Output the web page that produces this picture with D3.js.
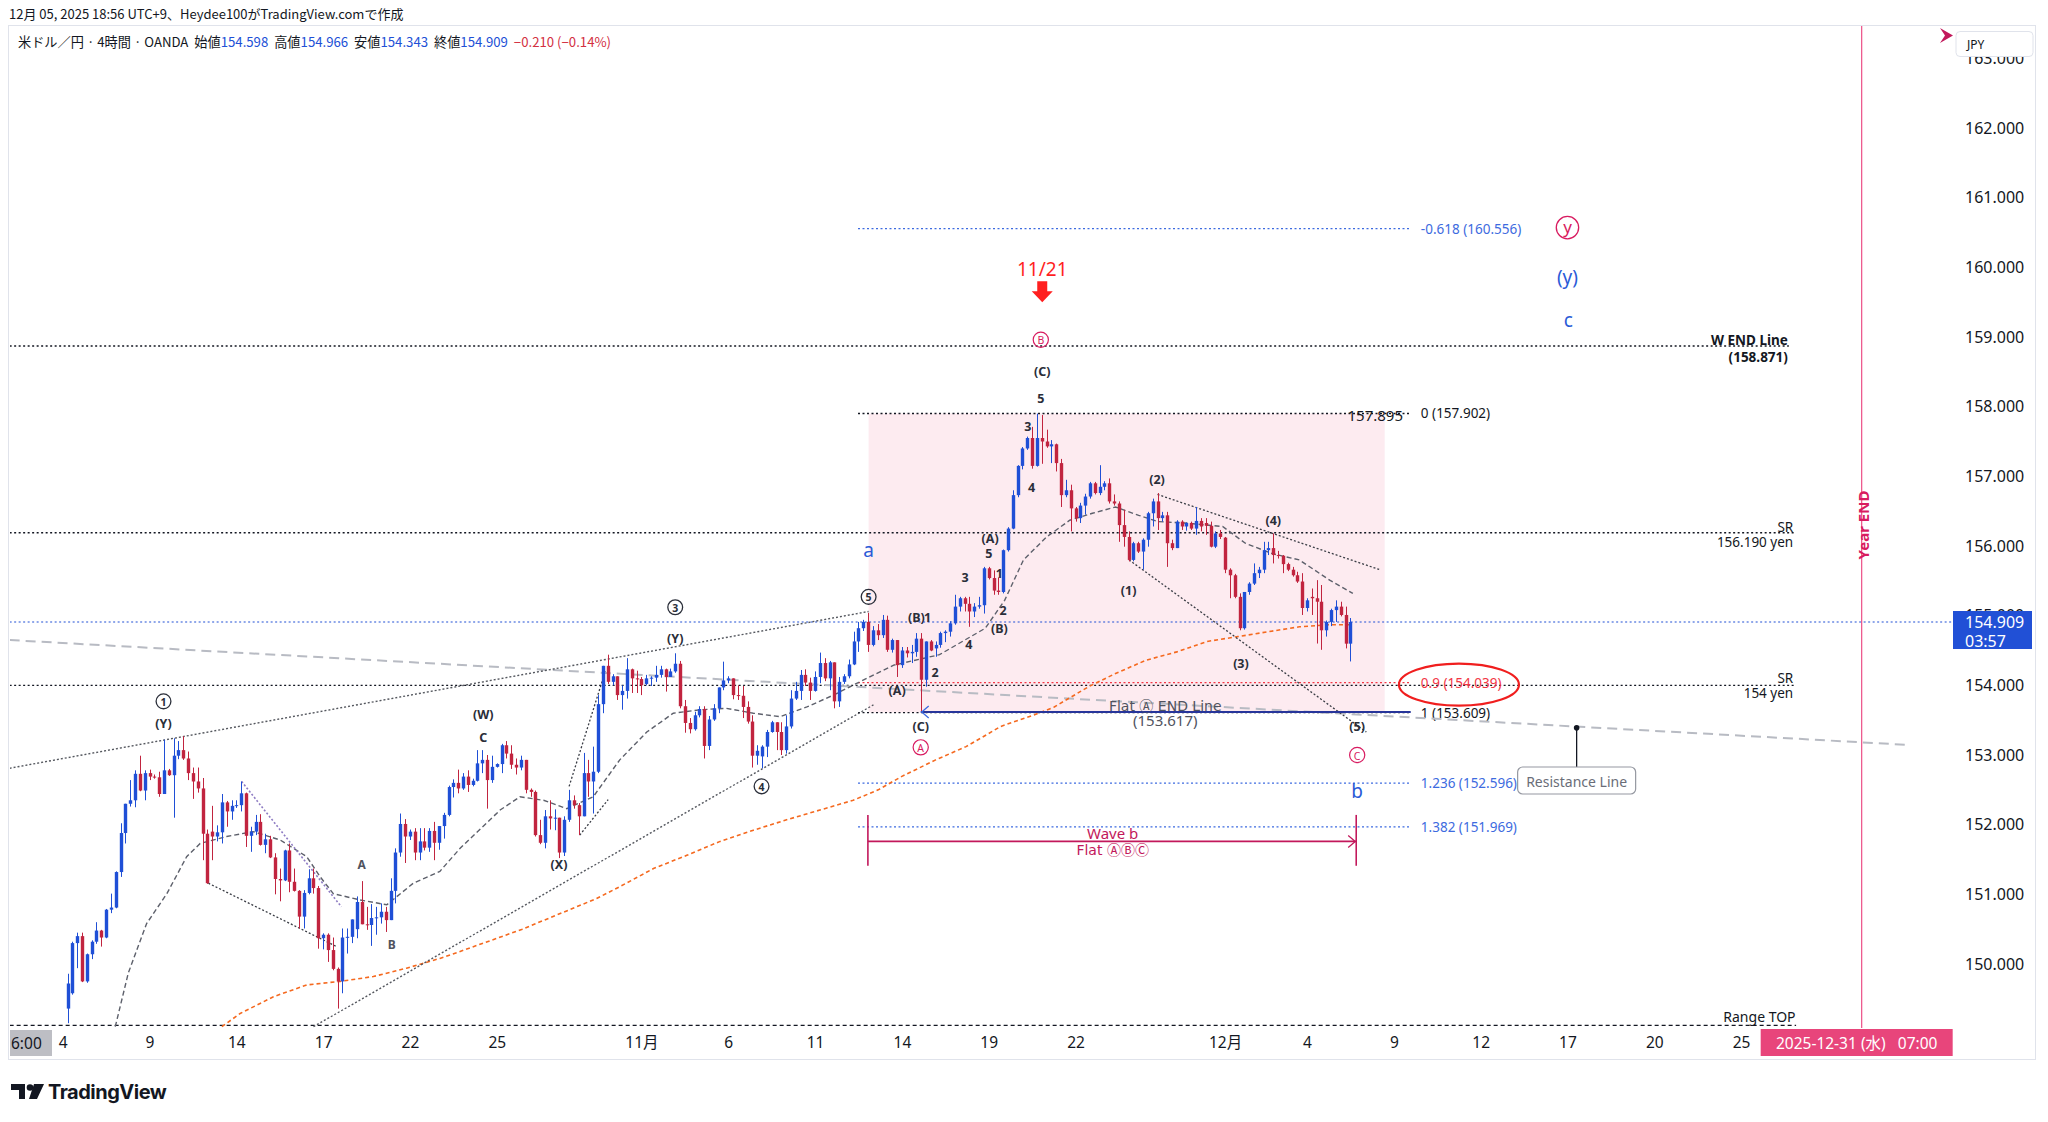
<!DOCTYPE html>
<html><head><meta charset="utf-8">
<script src="https://cdn.jsdelivr.net/npm/d3@7"></script>
<style>
html,body{margin:0;padding:0;background:#fff;}
text{font-family:"Noto Sans","Noto Sans CJK JP",sans-serif;}
</style></head>
<body><svg id="chart" width="2048" height="1122"></svg>
<script>
// ---------------- DATA ----------------
const firstBar = 1; // bar index of first candle (Mon Oct 6 07:00 JST); index 0 = Sat Oct 4 03:00
const opens = [
149.36,149.58,150.30,150.40,149.75,150.14,150.32,150.48,150.38,150.78,
150.81,151.32,151.88,152.30,152.35,152.73,152.49,152.74,152.69,152.68,
152.44,152.78,152.71,152.99,153.07,152.95,152.74,152.62,152.52,151.87,
151.90,151.83,151.89,152.32,152.19,152.27,152.28,152.45,151.84,151.90,
152.04,151.71,151.79,151.53,151.22,151.20,151.63,151.18,151.05,150.68,
151.02,151.23,151.09,150.37,150.42,150.20,149.93,149.75,150.38,150.39,
150.50,150.89,150.57,150.56,150.66,150.67,150.75,150.63,151.05,151.60,
152.01,151.83,151.90,151.60,151.76,151.67,151.91,151.74,151.98,152.14,
152.54,152.60,152.52,152.69,152.57,152.63,152.88,152.93,152.64,152.83,
152.87,153.14,153.02,152.86,152.82,152.93,152.50,152.47,151.85,151.74,
152.12,152.09,152.10,151.60,152.07,152.35,152.28,152.12,152.74,152.62,
152.76,153.73,154.28,154.05,154.13,153.86,153.92,154.23,154.10,154.09,
154.02,154.10,154.11,154.15,154.23,154.12,154.20,154.31,153.70,153.46,
153.37,153.57,153.66,153.13,153.51,153.67,153.97,154.07,154.10,153.86,
153.85,153.69,153.48,152.99,152.98,153.12,153.33,153.47,153.33,153.07,
153.41,153.81,153.92,154.15,154.04,153.92,154.12,154.32,154.10,154.33,
153.77,154.05,154.13,154.30,154.63,154.82,154.91,154.58,154.79,154.72,
154.94,154.51,154.65,154.29,154.50,154.46,154.48,154.67,154.08,154.63,
154.53,154.58,154.75,154.77,154.89,155.13,155.25,155.17,155.06,155.13,
155.15,155.68,155.54,155.36,155.34,155.94,156.25,156.73,157.15,157.40,
157.55,157.15,157.55,157.50,157.43,157.46,157.19,156.73,156.80,156.54,
156.40,156.58,156.71,156.90,156.76,156.85,156.90,156.64,156.61,156.30,
156.13,155.80,156.04,155.92,156.09,156.47,156.64,156.40,156.44,156.04,
155.97,156.35,156.28,156.33,156.25,156.36,156.33,156.29,155.99,156.18,
156.12,155.66,155.58,155.27,154.82,155.34,155.46,155.61,155.66,155.94,
155.97,155.87,155.86,155.74,155.66,155.58,155.49,155.11,155.27,155.25,
155.20,154.79,154.91,155.08,155.13,155.01,154.598];
const highs = [
149.86,150.32,150.45,150.45,150.15,150.34,150.60,150.49,150.79,151.01,
151.33,152.02,152.30,152.64,152.78,152.99,152.78,152.79,152.72,152.76,
153.22,152.80,153.24,153.20,153.27,153.05,152.82,152.82,152.67,151.93,
152.27,151.99,152.44,152.34,152.35,152.35,152.62,152.46,151.97,152.14,
152.15,151.87,151.84,151.59,151.37,151.64,151.73,151.37,151.06,151.06,
151.36,151.37,151.12,150.44,150.44,150.38,149.95,150.51,150.51,150.64,
150.97,151.19,150.82,150.86,150.82,150.87,150.82,151.23,151.66,152.16,
152.08,151.93,151.95,151.95,151.95,151.95,152.04,151.98,152.17,152.56,
152.65,152.79,152.74,152.78,152.66,153.07,153.07,153.00,152.99,152.88,
153.16,153.20,153.14,152.95,152.99,152.93,152.52,152.49,152.07,152.21,
152.35,152.22,152.10,152.12,152.50,152.42,152.31,153.03,152.93,153.12,
153.86,154.28,154.44,154.16,154.13,154.00,154.39,154.24,154.21,154.12,
154.15,154.13,154.28,154.28,154.24,154.24,154.46,154.35,153.79,153.53,
153.62,153.70,153.70,153.56,153.73,153.97,154.34,154.13,154.10,154.00,
153.99,153.77,153.57,153.14,153.14,153.36,153.49,153.47,153.47,153.57,
153.93,154.05,154.22,154.23,154.11,154.20,154.47,154.39,154.35,154.33,
154.12,154.16,154.37,154.77,154.91,154.94,155.04,154.85,154.88,155.01,
155.00,154.67,154.65,154.55,154.55,154.58,154.75,154.75,154.63,154.65,
154.63,154.77,154.79,154.92,155.30,155.27,155.27,155.27,155.18,155.27,
155.70,155.70,155.65,155.55,155.95,156.27,156.80,157.16,157.42,157.57,
157.71,157.90,157.88,157.67,157.52,157.47,157.25,156.95,156.88,156.56,
156.62,156.75,156.92,156.92,157.16,156.93,156.97,156.74,156.64,156.52,
156.21,156.06,156.06,156.11,156.49,156.68,156.76,156.49,156.49,156.09,
156.37,156.37,156.34,156.35,156.56,156.40,156.40,156.35,156.21,156.23,
156.13,155.68,155.60,155.32,155.34,155.48,155.75,155.70,156.06,156.06,
156.18,155.93,155.87,155.76,155.70,155.63,155.61,155.25,155.39,155.51,
155.44,154.93,155.10,155.22,155.20,155.13,154.966];
const lows = [
149.15,149.56,149.94,149.74,149.73,150.07,150.29,150.25,150.37,150.73,
150.80,151.25,151.73,152.26,152.25,152.48,152.35,152.64,152.66,152.40,
152.44,152.70,152.10,152.94,152.93,152.64,152.37,152.46,151.49,151.15,
151.49,151.76,151.73,151.97,152.07,152.24,152.19,151.68,151.61,151.85,
151.70,151.59,151.52,151.00,150.90,151.19,151.03,151.04,150.51,150.51,
151.00,151.01,150.22,150.21,150.03,149.91,149.36,149.58,150.15,150.30,
150.37,150.57,150.49,150.26,150.42,150.58,150.46,150.63,150.87,151.54,
151.45,151.78,151.49,151.49,151.63,151.61,151.49,151.64,151.80,152.12,
152.39,152.45,152.50,152.47,152.55,152.62,152.74,152.23,152.60,152.82,
152.74,152.95,152.80,152.72,152.78,152.45,152.40,151.83,151.72,151.66,
151.93,151.92,151.52,151.55,152.04,152.23,151.85,152.12,152.40,152.16,
152.74,153.60,154.02,154.00,153.79,153.65,153.81,153.89,153.89,153.86,
154.00,153.99,154.05,154.11,153.91,154.12,154.18,153.67,153.32,153.31,
153.35,153.54,152.95,153.07,153.49,153.60,153.93,154.03,153.80,153.79,
153.53,153.45,152.82,152.86,152.81,152.97,153.32,153.07,153.00,153.02,
153.38,153.79,153.79,153.99,153.79,153.91,154.03,154.06,153.93,153.67,
153.69,154.02,154.10,154.29,154.48,154.78,154.48,154.56,154.65,154.68,
154.48,154.47,154.12,154.25,154.40,154.32,154.41,153.61,153.98,154.49,
154.41,154.54,154.62,154.70,154.87,155.06,155.06,154.84,154.98,155.10,
155.03,155.52,155.30,155.30,155.32,155.92,156.24,156.70,157.10,157.38,
157.11,157.14,157.18,157.41,157.19,157.07,156.56,156.70,156.21,156.35,
156.33,156.45,156.68,156.74,156.73,156.80,156.61,156.58,156.06,155.99,
155.78,155.78,155.90,155.66,155.99,156.28,156.23,156.35,155.70,155.94,
155.97,156.23,156.22,156.23,156.16,156.21,156.16,155.98,155.97,156.10,
155.61,155.25,155.25,154.79,154.80,155.30,155.44,155.54,155.61,155.87,
155.75,155.82,155.61,155.64,155.56,155.47,155.01,155.06,155.01,154.60,
154.51,154.70,154.85,154.91,154.99,154.53,154.343];
const closes = [
149.72,150.30,150.40,149.75,150.14,150.32,150.48,150.38,150.78,150.81,
151.32,151.88,152.30,152.35,152.73,152.49,152.74,152.69,152.68,152.44,
152.78,152.71,152.99,153.07,152.95,152.74,152.62,152.52,151.87,151.16,
151.83,151.89,152.32,152.19,152.27,152.28,152.45,151.84,151.90,152.04,
151.71,151.79,151.53,151.22,151.20,151.63,151.18,151.05,150.68,151.02,
151.23,151.09,150.37,150.42,150.20,149.93,149.75,150.38,150.39,150.64,
150.89,150.57,150.56,150.66,150.67,150.75,150.63,151.05,151.60,152.01,
151.83,151.90,151.60,151.76,151.67,151.91,151.74,151.98,152.14,152.54,
152.60,152.52,152.69,152.57,152.63,152.88,152.93,152.64,152.83,152.87,
153.14,153.02,152.86,152.82,152.93,152.50,152.47,151.85,151.74,152.12,
152.09,152.10,151.60,152.07,152.35,152.28,152.12,152.74,152.62,152.76,
153.73,154.28,154.05,154.13,153.86,153.92,154.23,154.10,154.09,154.00,
154.10,154.11,154.15,154.23,154.12,154.20,154.31,153.70,153.46,153.37,
153.57,153.66,153.13,153.51,153.67,153.97,154.07,154.10,153.86,153.85,
153.69,153.48,152.99,153.06,153.12,153.33,153.47,153.33,153.07,153.41,
153.81,153.92,154.15,154.04,153.92,154.12,154.32,154.10,154.33,153.77,
154.05,154.13,154.30,154.63,154.82,154.91,154.58,154.79,154.72,154.94,
154.51,154.65,154.29,154.50,154.46,154.48,154.67,154.08,154.63,154.50,
154.58,154.75,154.77,154.89,155.13,155.25,155.17,155.06,155.13,155.15,
155.68,155.54,155.36,155.34,155.94,156.25,156.73,157.15,157.40,157.55,
157.15,157.55,157.50,157.43,157.46,157.19,156.73,156.80,156.54,156.40,
156.58,156.71,156.90,156.76,156.85,156.90,156.64,156.61,156.30,156.13,
155.80,156.04,155.92,156.09,156.47,156.64,156.40,156.44,156.04,155.97,
156.35,156.28,156.33,156.25,156.36,156.28,156.29,155.99,156.18,156.13,
155.66,155.58,155.27,154.82,155.34,155.46,155.61,155.66,155.94,155.97,
155.87,155.86,155.74,155.66,155.58,155.49,155.11,155.22,155.25,155.20,
154.79,154.91,155.08,155.13,155.01,154.598,154.909];

// moving averages (bar index, value)
const fastMaBars = [10.9,13.6,17.4,21.6,25.7,28.5,34.0,39.5,45.1,50.6,53.4,56.1,61.6,67.2,72.7,78.2,82.4,90.7,94.8,99.7,104.5,110.0,115.5,121.1,126.6,132.2,137.6,143.2,148.7,154.3,159.8,166.7,172.3,181.8,191.3,195.3,199.2,204.0,208.8,213.5,218.3,223.1,227.1,232.6,240.5,245.2,250.8,256.4,262.7,267.5];
const fastMaValues = [149.10,149.87,150.58,151.01,151.54,151.73,151.83,151.90,151.78,151.54,151.25,151.01,150.92,150.85,151.16,151.33,151.66,152.21,152.40,152.35,152.23,152.40,152.93,153.33,153.60,153.65,153.67,153.60,153.55,153.69,153.86,154.10,154.29,154.44,154.82,155.22,155.80,156.13,156.37,156.47,156.56,156.44,156.35,156.33,156.28,156.04,155.89,155.80,155.51,155.32];
const slowMaBars = [33.0,36.8,43.7,50.6,57.5,64.4,71.3,78.2,82.4,95.3,110.7,115.5,122.5,129.4,136.3,143.2,150.1,157.0,163.9,169.1,173.9,181.0,187.3,194.5,202.4,205.6,212.7,218.3,224.6,231.0,237.3,243.7,250.0,256.4,262.7,267.5];
const slowMaValues = [149.10,149.29,149.53,149.70,149.75,149.82,149.94,150.08,150.18,150.50,150.94,151.11,151.37,151.56,151.76,151.92,152.07,152.21,152.35,152.50,152.69,152.93,153.12,153.41,153.60,153.69,153.98,154.17,154.36,154.48,154.63,154.70,154.77,154.84,154.87,154.87];

// axes
const priceTicks = [150,151,152,153,154,155,156,157,158,159,160,161,162,163];
const timeTickBars = [0,18,36,54,72,90,120,138,156,174,192,210,241,258,276,294,312,330,348];
const timeTickLabels = ["4","9","14","17","22","25","11月","6","11","14","19","22","12月","4","9","12","17","20","25"];

// fibonacci
const fibLevels = [-0.618, 0, 0.9, 1, 1.236, 1.382];
const fibPrices = [160.556, 157.902, 154.039, 153.609, 152.596, 151.969];
const fibBars = [164.9, 279.5];

// horizontal levels
const wEndPrice = 158.871;
const srPrices = [156.190, 154.0];
const srLabels = ["156.190 yen", "154 yen"];
const rangeTopPrice = 149.12;
const lastPrice = 154.909;
const flatEndPrice = 153.617;
const boxPrices = [157.902, 153.609];
const boxBars = [167.1, 274.1];
const waveBBars = [166.95, 268.2];
const yearEndBar = 373;

// trend lines [bar1, price1, bar2, price2]
const channelLines = [
  [-11, 152.81, 167.1, 155.06],
  [52.0, 149.10, 168.1, 153.72]
];
const wedgeLines = [
  [30.2, 151.16, 56.8, 150.25],
  [105.0, 152.55, 112.5, 154.20],
  [107.2, 151.85, 113.1, 152.36],
  [227.0, 156.74, 273.1, 155.66],
  [221.1, 155.80, 270.3, 153.33]
];
const purpleLines = [[37.1, 152.62, 57.8, 150.82]];
const resistanceLine = [-11, 154.65, 382.4, 153.146];
const resistanceAnchor = [313.9, 153.39];

// wave labels [bar, price, text]
const waveLabels = [
  [20.9,153.45,"(Y)"],[127.0,154.67,"(Y)"],[87.2,153.58,"(W)"],[87.2,153.25,"C"],[102.9,151.43,"(X)"],
  [177.0,154.97,"(B)"],[179.3,154.97,"1"],[180.9,154.18,"2"],[173.0,153.92,"(A)"],[177.9,153.41,"(C)"],
  [187.9,154.59,"4"],[187.1,155.55,"3"],[192.0,155.89,"5"],[192.3,156.11,"(A)"],[194.2,155.61,"1"],
  [195.0,155.08,"2"],[194.2,154.82,"(B)"],[200.9,156.84,"4"],[200.1,157.72,"3"],[202.8,158.12,"5"],
  [203.1,158.51,"(C)"],[221.0,155.36,"(1)"],[226.9,156.96,"(2)"],[244.3,154.31,"(3)"],[251.0,156.36,"(4)"],
  [268.4,153.41,"(5)"]
];
const minorLabels = [[62.0,151.43,"A"],[68.2,150.28,"B"]];
const circledNumbers = [[20.9,153.77,"1"],[127.0,155.12,"3"],[167.1,155.27,"5"],[144.9,152.55,"4"]];
const circledLetters = [[177.9,153.11,"A"],[202.8,158.96,"B"],[268.4,153.00,"C"]];
const bigCircled = [[312.0,160.57,"y"]];
const blueLabels = [[167.1,155.94,"a"],[268.4,152.48,"b"],[312.0,159.86,"(y)"],[312.2,159.24,"c"]];
const signalBar = 203.1, signalPrice = 159.97, signalText = "11/21";

// ---------------- DRAW ----------------
const svg = d3.select("#chart");
const PL = 10, PR = 1953, PT = 26, PB = 1028;
const X = d3.scaleLinear().domain([0, 348]).range([62.7, 1741.1]);
const Y = d3.scaleLinear().domain([150, 162]).range([964, 128]);

svg.append("rect").attr("width",2048).attr("height",1122).attr("fill","#fff");
// header
svg.append("text").attr("x",9).attr("y",19).attr("font-size",13).attr("fill","#131722")
  .style("font-family","'Noto Sans CJK JP',sans-serif")
  .text("12月 05, 2025 18:56 UTC+9、Heydee100がTradingView.comで作成");
// frame
svg.append("rect").attr("x",8.5).attr("y",25.5).attr("width",2027).attr("height",1034)
  .attr("fill","none").attr("stroke","#e0e3eb");

const defs = svg.append("defs");
defs.append("clipPath").attr("id","clip").append("rect")
  .attr("x",PL).attr("y",PT).attr("width",PR-PL).attr("height",PB-PT);
defs.append("clipPath").attr("id","clipAxis").append("rect")
  .attr("x",PL).attr("y",PB).attr("width",PR-PL).attr("height",32);

const plot = svg.append("g").attr("clip-path","url(#clip)");

// pink box
plot.append("rect").attr("x",X(boxBars[0])).attr("width",X(boxBars[1])-X(boxBars[0]))
  .attr("y",Y(boxPrices[0])).attr("height",Y(boxPrices[1])-Y(boxPrices[0]))
  .attr("fill","#fdebf0");

function seg(g, a, stroke, dash, w){
  return g.append("line").attr("x1",X(a[0])).attr("y1",Y(a[1])).attr("x2",X(a[2])).attr("y2",Y(a[3]))
    .attr("stroke",stroke).attr("stroke-width",w||1.2).attr("stroke-dasharray",dash||null);
}
function txt(g, x, y, s, size, fill, anchor, weight){
  return g.append("text").attr("x",x).attr("y",y).attr("font-size",size).attr("fill",fill)
    .attr("text-anchor",anchor||"middle").attr("dominant-baseline","central")
    .attr("font-weight",weight||"normal").text(s);
}

// horizontal dotted levels
seg(plot,[-11,wEndPrice,357.9,wEndPrice],"#131722","2,2.5",1.3);
srPrices.forEach(p=>seg(plot,[-11,p,359.4,p],"#131722","2,2.5",1.3));
seg(plot,[-11,rangeTopPrice,359.4,rangeTopPrice],"#131722","4,3",1.3);
seg(plot,[-11,lastPrice,400,lastPrice],"#2150d6","2,2.5",1.2);

// fib
const fibColors = ["#3d6be0","#131722","#f23645","#131722","#3d6be0","#3d6be0"];
fibPrices.forEach((p,i)=>{
  seg(plot,[fibBars[0],p,fibBars[1],p],fibColors[i],"2,2.5",1.3);
  txt(plot, X(281.6), Y(p), `${fibLevels[i]} (${p.toFixed(3)})`, 13.5, fibColors[i], "start");
});
txt(plot, X(277.9), Y(157.88), "157.895", 15, "#131722", "end");

// resistance dashed line
seg(plot,resistanceLine,"#b8bbc3","10,6",2);

// moving averages
const line = d3.line().x(d=>X(d[0])).y(d=>Y(d[1]));
plot.append("path").datum(slowMaBars.map((b,i)=>[b,slowMaValues[i]])).attr("d",line)
  .attr("fill","none").attr("stroke","#f5691f").attr("stroke-width",1.6).attr("stroke-dasharray","4,3");
plot.append("path").datum(fastMaBars.map((b,i)=>[b,fastMaValues[i]])).attr("d",line)
  .attr("fill","none").attr("stroke","#5d606b").attr("stroke-width",1.4).attr("stroke-dasharray","5,3");

// trend lines
channelLines.forEach(a=>seg(plot,a,"#55585f","2,2",1.4));
wedgeLines.forEach(a=>seg(plot,a,"#3a3d45","2,2",1.3));
purpleLines.forEach(a=>seg(plot,a,"#8e7cc3","2,2",1.6));

// candles
const bars = opens.map((o,i)=>({k:firstBar+i,o,h:highs[i],l:lows[i],c:closes[i]}));
const upC = "#1f4fd6", dnC = "#c1243f";
const cg = plot.append("g");
cg.selectAll("line").data(bars).join("line")
  .attr("x1",d=>Math.round(X(d.k))+0.5).attr("x2",d=>Math.round(X(d.k))+0.5)
  .attr("y1",d=>Y(d.h)).attr("y2",d=>Y(d.l))
  .attr("stroke",d=>d.c>=d.o?upC:dnC).attr("stroke-width",1);
cg.selectAll("rect").data(bars).join("rect")
  .attr("x",d=>Math.round(X(d.k))-1.2).attr("width",3.4)
  .attr("y",d=>Y(Math.max(d.o,d.c))).attr("height",d=>Math.max(1,Math.abs(Y(d.o)-Y(d.c))))
  .attr("fill",d=>d.c>=d.o?upC:dnC);

// flat A end line
seg(plot,[177.9,flatEndPrice,279.5,flatEndPrice],"#27359a",null,2);
plot.append("path").attr("d",`M${X(177.9)+8},${Y(flatEndPrice)-6} L${X(177.9)+1},${Y(flatEndPrice)} L${X(177.9)+8},${Y(flatEndPrice)+6}`)
  .attr("fill","none").attr("stroke","#3d6be0").attr("stroke-width",1.3);
txt(plot, X(228.6), Y(153.70), "Flat Ⓐ END Line", 15, "#50535e").style("font-family","'DejaVu Sans','Noto Sans CJK JP',sans-serif").attr("font-size",14);
txt(plot, X(228.6), Y(153.50), "(153.617)", 15, "#50535e");

// red ellipse
plot.append("ellipse").attr("cx",X(289.5)).attr("cy",Y(154.01)).attr("rx",60).attr("ry",21)
  .attr("fill","none").attr("stroke","#f01e1e").attr("stroke-width",2.2);

// wave b range
const wbc = "#c2185b";
seg(plot,[waveBBars[0],151.76,waveBBars[1],151.76],wbc,null,1.6);
seg(plot,[waveBBars[0],152.14,waveBBars[0],151.41],wbc,null,1.6);
seg(plot,[waveBBars[1],152.14,waveBBars[1],151.41],wbc,null,1.6);
plot.append("path").attr("d",`M${X(waveBBars[1])-8},${Y(151.76)-6} L${X(waveBBars[1])-1},${Y(151.76)} L${X(waveBBars[1])-8},${Y(151.76)+6}`)
  .attr("fill","none").attr("stroke",wbc).attr("stroke-width",1.3);
txt(plot, X(217.7), Y(151.88), "Wave b", 15, wbc);
txt(plot, X(217.7), Y(151.64), "Flat ⒶⒷⒸ", 15, wbc).style("font-family","'DejaVu Sans','Noto Sans CJK JP',sans-serif").attr("font-size",14);

// resistance callout
const ax = X(resistanceAnchor[0]), ay = Y(resistanceAnchor[1]);
plot.append("line").attr("x1",ax).attr("y1",ay).attr("x2",ax).attr("y2",767).attr("stroke","#131722").attr("stroke-width",1.3);
plot.append("circle").attr("cx",ax).attr("cy",ay).attr("r",2.8).attr("fill","#131722");
plot.append("rect").attr("x",ax-59).attr("y",767).attr("width",118).attr("height",27).attr("rx",5)
  .attr("fill","#fff").attr("stroke","#9598a1").attr("stroke-width",1.2);
txt(plot, ax, 781, "Resistance Line", 14, "#6a6d78");

// right-side level texts
txt(plot, X(357.7), Y(158.95), "W END Line", 13.5, "#131722", "end", "bold");
txt(plot, X(357.7), Y(158.72), "(158.871)", 13.5, "#131722", "end", "bold");
txt(plot, X(358.8), Y(156.27), "SR", 13.5, "#131722", "end");
txt(plot, X(358.8), Y(156.06), srLabels[0], 13.5, "#131722", "end");
txt(plot, X(358.8), Y(154.10), "SR", 13.5, "#131722", "end");
txt(plot, X(358.8), Y(153.89), srLabels[1], 13.5, "#131722", "end");
txt(plot, X(359.3), Y(149.24), "Range TOP", 14, "#131722", "end");

// year end line
plot.append("line").attr("x1",X(yearEndBar)).attr("x2",X(yearEndBar)).attr("y1",PT).attr("y2",PB)
  .attr("stroke","#ec4f86").attr("stroke-width",1.2);
plot.append("text").attr("transform",`translate(${X(yearEndBar)+1},525) rotate(-90)`)
  .attr("text-anchor","middle").attr("dominant-baseline","central").attr("font-size",15)
  .attr("font-weight","bold").attr("fill","#d81b60").text("Year END");

// wave labels
waveLabels.forEach(d=>txt(plot, X(d[0]), Y(d[1]), d[2], 12.5, "#2a2e39", "middle", "bold"));
minorLabels.forEach(d=>txt(plot, X(d[0]), Y(d[1]), d[2], 12, "#50535e", "middle", "bold"));
circledNumbers.forEach(d=>{
  plot.append("circle").attr("cx",X(d[0])).attr("cy",Y(d[1])).attr("r",7.4).attr("fill","none").attr("stroke","#2a2e39").attr("stroke-width",1.3);
  txt(plot, X(d[0]), Y(d[1])+0.5, d[2], 10.5, "#2a2e39", "middle", "bold");
});
circledLetters.forEach(d=>{
  plot.append("circle").attr("cx",X(d[0])).attr("cy",Y(d[1])).attr("r",7.6).attr("fill","none").attr("stroke","#d81b60").attr("stroke-width",1.2);
  txt(plot, X(d[0]), Y(d[1])+0.5, d[2], 10.5, "#d81b60", "middle");
});
bigCircled.forEach(d=>{
  plot.append("circle").attr("cx",X(d[0])).attr("cy",Y(d[1])).attr("r",11.2).attr("fill","none").attr("stroke","#d81b60").attr("stroke-width",1.3);
  txt(plot, X(d[0]), Y(d[1])-1, d[2], 17, "#d81b60", "middle");
});
blueLabels.forEach(d=>txt(plot, X(d[0]), Y(d[1]), d[2], 19, "#2a5bd7", "middle"));
txt(plot, X(signalBar), Y(signalPrice), signalText, 19, "#ff1f1f", "middle");
const sx = X(signalBar), sy = Y(159.80);
plot.append("path").attr("d",`M${sx-5},${sy} h10 v10 h5.5 l-10.5,11 l-10.5,-11 h5.5 z`).attr("fill","#ff1f1f");

// legend (inside chart)
const lg = svg.append("text").attr("x",18).attr("y",47).attr("font-size",13.2).attr("fill","#131722")
  .attr("xml:space","preserve").style("font-family","'Noto Sans CJK JP',sans-serif");
[["米ドル／円 · 4時間 · OANDA  始値","#131722"],["154.598","#2150d6"],["  高値","#131722"],["154.966","#2150d6"],
 ["  安値","#131722"],["154.343","#2150d6"],["  終値","#131722"],["154.909","#2150d6"],["  −0.210 (−0.14%)","#d32f3f"]]
 .forEach(p=>lg.append("tspan").attr("fill",p[1]).text(p[0]));

// price axis
const yAxis = svg.append("g").attr("transform","translate(1961,0)")
  .call(d3.axisRight(Y).tickValues(priceTicks).tickFormat(d3.format(".3f")).tickSize(0).tickPadding(4));
yAxis.select(".domain").remove();
yAxis.selectAll("text").attr("font-size",16).attr("fill","#131722").style("font-family","'Noto Sans',sans-serif");

// JPY box + icon
svg.append("rect").attr("x",1956).attr("y",31.5).attr("width",77).attr("height",25).attr("rx",4)
  .attr("fill","#fff").attr("stroke","#e0e3eb");
svg.append("text").attr("x",1967).attr("y",44).attr("dominant-baseline","central").attr("font-size",12).attr("fill","#131722").text("JPY");
svg.append("path").attr("d","M1940,28 L1953,35.5 L1940,43 L1945,35.5 Z").attr("fill","#c2185b");

// current price label
svg.append("rect").attr("x",1953).attr("y",Y(lastPrice)-11).attr("width",79).attr("height",38).attr("fill","#2150d6");
svg.append("text").attr("x",1965).attr("y",Y(lastPrice)).attr("dominant-baseline","central").attr("font-size",16).attr("fill","#fff").text(lastPrice.toFixed(3));
svg.append("text").attr("x",1965).attr("y",Y(lastPrice)+19).attr("dominant-baseline","central").attr("font-size",16).attr("fill","#fff").text("03:57");

// time axis (clip group is untransformed so the clip rect is in page coordinates)
const xClip = svg.append("g").attr("clip-path","url(#clipAxis)");
const xg = xClip.append("g").attr("transform",`translate(0,${PB})`)
  .call(d3.axisBottom(X).tickValues(timeTickBars).tickFormat((d,i)=>timeTickLabels[i]).tickSize(0).tickPadding(9));
xg.select(".domain").remove();
xg.selectAll("text").attr("font-size",15.5).attr("fill","#131722").style("font-family","'Noto Sans','Noto Sans CJK JP',sans-serif");
// crosshair stub label at left
svg.append("rect").attr("x",10).attr("y",PB+2).attr("width",42).attr("height",26).attr("fill","#bdbec4");
svg.append("text").attr("x",11).attr("y",PB+15).attr("dominant-baseline","central").attr("font-size",15.5).attr("fill","#131722").text("6:00");
// year-end date label
svg.append("rect").attr("x",X(yearEndBar)-101).attr("y",PB+1).attr("width",192).attr("height",27).attr("fill","#e8457b");
svg.append("text").attr("x",X(yearEndBar)-5).attr("y",PB+15).attr("text-anchor","middle").attr("dominant-baseline","central")
  .attr("font-size",15.5).attr("fill","#fff").attr("xml:space","preserve")
  .style("font-family","'Noto Sans','Noto Sans CJK JP',sans-serif").text("2025-12-31 (水)   07:00");

// footer logo
const lgo = svg.append("g").attr("fill","#131722");
lgo.append("path").attr("d","M11,1084 h14 v15 h-6 v-9 h-8 z");
lgo.append("circle").attr("cx",30).attr("cy",1087.5).attr("r",3.3);
lgo.append("path").attr("d","M34,1084 h10 l-7,15 h-8 z");
svg.append("text").attr("x",48).attr("y",1092).attr("dominant-baseline","central").attr("font-size",20)
  .attr("font-weight","bold").attr("fill","#131722").style("font-family","Inter,'Noto Sans',sans-serif").attr("letter-spacing",-0.5).text("TradingView");
</script>
</body></html>
